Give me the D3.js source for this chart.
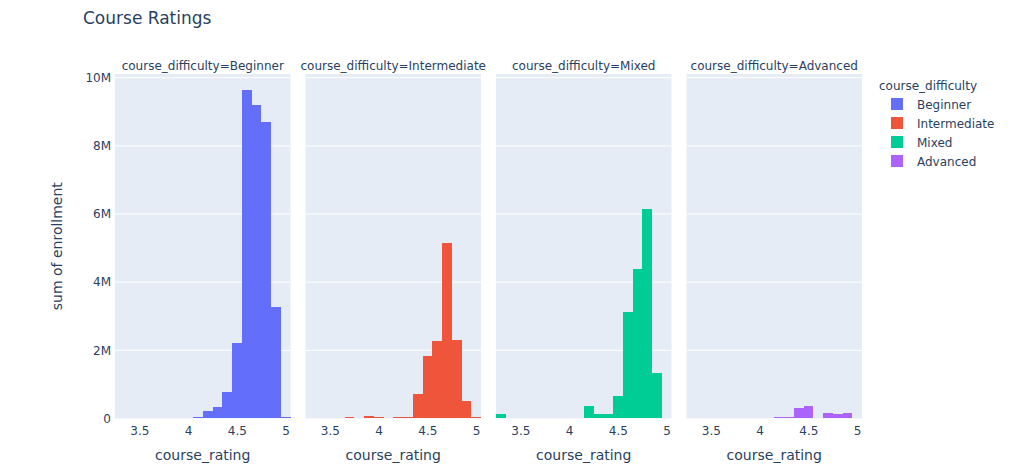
<!doctype html>
<html>
  <head>
    <meta charset="UTF-8">
    <title>Course Ratings</title>
    <script src="https://d3js.org/d3.v7.min.js"></script>
    <style>
      body { margin: 0; background: #fff; }
      svg text { font-family: "DejaVu Sans", Verdana, Arial, sans-serif; fill: #2a3f5f; }
      .grid line { stroke: #fff; stroke-width: 1px; }
      .bar { shape-rendering: crispEdges; }
    </style>
  </head>
  <body>
    <svg id="chart" width="1015" height="466"></svg>
    <script>
      // Histogram bin centres (bin width 0.1)
      const binCenters = [3.3, 3.4, 3.5, 3.6, 3.7, 3.8, 3.9, 4.0, 4.1, 4.2, 4.3, 4.4, 4.5, 4.6, 4.7, 4.8, 4.9, 5.0];
      const difficulties = ["Beginner", "Intermediate", "Mixed", "Advanced"];
      const colors = ["#636efa", "#EF553B", "#00cc96", "#ab63fa"];

      // sum of enrollment per bin, in millions
      const beginner     = [0, 0, 0, 0, 0, 0, 0, 0, 0.04, 0.22, 0.34, 0.78, 2.2, 9.63, 9.19, 8.71, 3.28, 0.03];
      const intermediate = [0, 0, 0, 0, 0.03, 0, 0.07, 0.04, 0, 0.04, 0.04, 0.72, 1.83, 2.28, 5.16, 2.31, 0.52, 0.03];
      const mixed        = [0.14, 0, 0, 0, 0, 0, 0, 0, 0, 0.37, 0.14, 0.14, 0.66, 3.13, 4.39, 6.15, 1.32, 0];
      const advanced     = [0, 0, 0, 0, 0, 0, 0, 0, 0, 0.03, 0.05, 0.3, 0.36, 0, 0.15, 0.12, 0.15, 0];
      const series = [beginner, intermediate, mixed, advanced];

      const xTicks = [3.5, 4, 4.5, 5];
      const yTicks = [0, 2, 4, 6, 8, 10];
      const yTickLabels = ["0", "2M", "4M", "6M", "8M", "10M"];

      const svg = d3.select("#chart");
      const plotTop = 74, plotBottom = 418.4;
      const panelLeft = 115, panelW = 175.5, gap = 15;

      const y = d3.scaleLinear().domain([0, 10.11]).range([plotBottom, plotTop]);

      // title
      svg.append("text")
        .attr("x", 83).attr("y", 24)
        .style("font-size", "17px")
        .text("Course Ratings");

      difficulties.forEach((name, i) => {
        const x0 = panelLeft + i * (panelW + gap);
        const x = d3.scaleLinear().domain([3.25, 5.05]).range([x0, x0 + panelW]);
        const g = svg.append("g");

        g.append("rect")
          .attr("x", x0).attr("y", plotTop)
          .attr("width", panelW).attr("height", plotBottom - plotTop)
          .attr("fill", "#E5ECF6");

        // horizontal grid
        g.append("g").attr("class", "grid")
          .selectAll("line")
          .data(yTicks.slice(1))
          .enter().append("line")
            .attr("x1", x0).attr("x2", x0 + panelW)
            .attr("y1", d => y(d)).attr("y2", d => y(d));

        // bars
        g.selectAll("rect.bar")
          .data(series[i].map((v, j) => ({ c: binCenters[j], v: v })).filter(d => d.v > 0))
          .enter().append("rect")
            .attr("class", "bar")
            .attr("x", d => x(d.c - 0.05))
            .attr("width", d => x(d.c + 0.05) - x(d.c - 0.05))
            .attr("y", d => y(d.v))
            .attr("height", d => plotBottom - y(d.v))
            .attr("fill", colors[i]);

        // x axis
        const xAxis = g.append("g")
          .attr("transform", `translate(0,${plotBottom})`)
          .call(d3.axisBottom(x).tickValues(xTicks).tickSize(0).tickPadding(8).tickFormat(d3.format("")));
        xAxis.select(".domain").remove();
        xAxis.selectAll("text").style("font-size", "12px").attr("fill", "#2a3f5f");

        g.append("text")
          .attr("x", x0 + panelW / 2).attr("y", 460)
          .attr("text-anchor", "middle")
          .style("font-size", "14px")
          .text("course_rating");

        // facet label
        g.append("text")
          .attr("x", x0 + panelW / 2).attr("y", 70)
          .attr("text-anchor", "middle")
          .style("font-size", "12px")
          .text("course_difficulty=" + name);

        if (i === 0) {
          const yAxis = g.append("g")
            .attr("transform", `translate(${x0},0)`)
            .call(d3.axisLeft(y).tickValues(yTicks).tickSize(0).tickPadding(4)
              .tickFormat((d, k) => yTickLabels[k]));
          yAxis.select(".domain").remove();
          yAxis.selectAll("text").style("font-size", "12px").attr("fill", "#2a3f5f");
        }
      });

      // y axis title
      svg.append("text")
        .attr("transform", `translate(62,${(plotTop + plotBottom) / 2}) rotate(-90)`)
        .attr("text-anchor", "middle")
        .style("font-size", "14px")
        .text("sum of enrollment");

      // legend
      const legend = svg.append("g");
      legend.append("text")
        .attr("x", 879).attr("y", 90)
        .style("font-size", "12px")
        .text("course_difficulty");
      difficulties.forEach((name, i) => {
        const ly = 104 + i * 19;
        legend.append("rect")
          .attr("x", 891).attr("y", ly - 6)
          .attr("width", 12).attr("height", 12)
          .attr("fill", colors[i]);
        legend.append("text")
          .attr("x", 917).attr("y", ly + 4.5)
          .style("font-size", "12px")
          .text(name);
      });
    </script>
  </body>
</html>
